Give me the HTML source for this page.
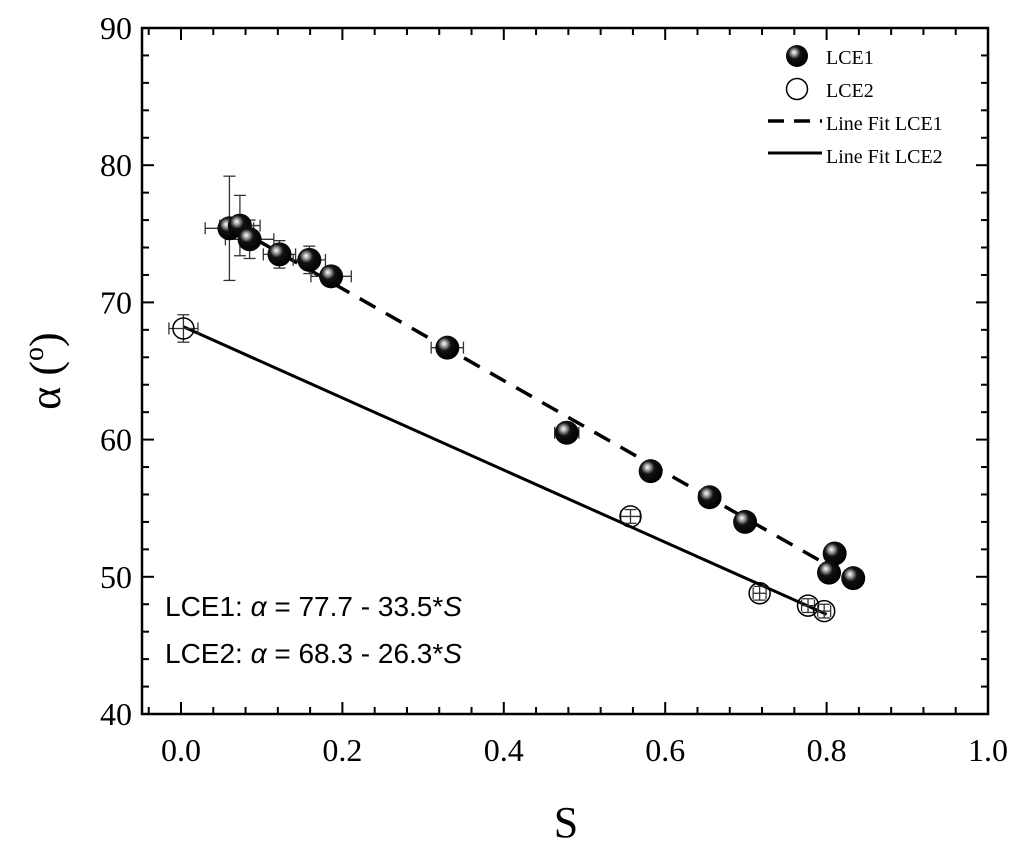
<!DOCTYPE html>
<html><head><meta charset="utf-8"><style>
body{margin:0;background:#fff;}
svg text{font-family:"Liberation Serif",serif;fill:#000;}
</style></head><body>
<svg id="chart" width="1024" height="848" xmlns="http://www.w3.org/2000/svg">
<defs>
<radialGradient id="shine" cx="0.4" cy="0.38" r="0.62" fx="0.36" fy="0.33">
<stop offset="0" stop-color="#fff"/><stop offset="0.18" stop-color="#aaa"/><stop offset="0.45" stop-color="#111"/><stop offset="1" stop-color="#000"/>
</radialGradient>
</defs>
<g id="plot"></g>
</svg>
<script>
const lce1X=[0.060,0.073,0.085,0.122,0.159,0.186,0.330,0.478,0.582,0.655,0.699,0.810,0.803,0.833];
const lce1Y=[75.4,75.6,74.6,73.5,73.1,71.9,66.7,60.5,57.7,55.8,54.0,51.7,50.3,49.9];
const lce1Xerr=[0.03,0.025,0.03,0.02,0.02,0.025,0.02,0.015,0.01,0.008,0.008,0.006,0.006,0.006];
const lce1Yerr=[3.8,2.2,1.4,1.0,1.0,0.6,0.4,0.3,0.3,0.2,0.2,0.2,0.2,0.2];
const lce2X=[0.003,0.557,0.717,0.777,0.797];
const lce2Y=[68.1,54.4,48.8,47.9,47.5];
const lce2Xerr=[0.018,0.012,0.008,0.008,0.008];
const lce2Yerr=[1.0,0.5,0.5,0.5,0.5];
const fit1=[77.7,-33.5], fit1Range=[0.06,0.81];
const fit2=[68.3,-26.3], fit2Range=[0.003,0.80];
const xTicks=[0.0,0.2,0.4,0.6,0.8,1.0];
const xTickLabels=["0.0","0.2","0.4","0.6","0.8","1.0"];
const yTicks=[40,50,60,70,80,90];
const yTickLabels=["40","50","60","70","80","90"];

const L=142,R=988,T=28,B=714;
const X=v=>181+(v-0)*(R-181)/1.0;
const Y=v=>B-(v-40)*(B-T)/50;
const svg=document.getElementById('plot');
const NS='http://www.w3.org/2000/svg';
function mk(tag,attrs,parent){const e=document.createElementNS(NS,tag);for(const k in attrs)e.setAttribute(k,attrs[k]);(parent||svg).appendChild(e);return e;}

const fr=mk('rect',{x:L,y:T,width:R-L,height:B-T,fill:'none',stroke:'#000','stroke-width':2.5});


for(let v=-0.04;v<=1.001;v+=0.04){const big=Math.abs(v/0.2-Math.round(v/0.2))<0.01;const len=big?12:7;const x=X(v);
 mk('line',{x1:x,x2:x,y1:B,y2:B-len,stroke:'#000','stroke-width':2});
 mk('line',{x1:x,x2:x,y1:T,y2:T+len,stroke:'#000','stroke-width':2});}
for(let v=40;v<=90;v+=2){const big=v%10===0;const len=big?12:7;const y=Y(v);
 mk('line',{x1:L,x2:L+len,y1:y,y2:y,stroke:'#000','stroke-width':2});
 mk('line',{x1:R,x2:R-len,y1:y,y2:y,stroke:'#000','stroke-width':2});}
xTicks.forEach((v,i)=>{const t=mk('text',{x:X(v),y:B+47,'font-size':32,'text-anchor':'middle'});t.textContent=xTickLabels[i];
 
 });
yTicks.forEach((v,i)=>{const t=mk('text',{x:L-10,y:Y(v)+11,'font-size':32,'text-anchor':'end'});t.textContent=yTickLabels[i];
 
 });
const xt=mk('text',{x:566,y:837,'font-size':44,'text-anchor':'middle'});xt.textContent='S';


const yt=mk('text',{x:0,y:0,'font-size':44,'text-anchor':'middle',transform:'translate(60,371) rotate(-90)'});
yt.innerHTML='α (<tspan font-size="28" dy="-17">o</tspan><tspan dy="17">)</tspan>';


const f1=mk('line',{x1:X(fit1Range[0]),y1:Y(fit1[0]+fit1[1]*fit1Range[0]),x2:X(fit1Range[1]),y2:Y(fit1[0]+fit1[1]*fit1Range[1]),stroke:'#000','stroke-width':3.5,'stroke-dasharray':'18,12'});


const f2=mk('line',{x1:X(fit2Range[0]),y1:Y(fit2[0]+fit2[1]*fit2Range[0]),x2:X(fit2Range[1]),y2:Y(fit2[0]+fit2[1]*fit2Range[1]),stroke:'#000','stroke-width':3});


function errbar(x,y,xe,ye){const g=mk('g',{stroke:'#333','stroke-width':1.3});
 const x1=X(x-xe),x2=X(x+xe),y1=Y(y-ye),y2=Y(y+ye),cx=X(x),cy=Y(y);
 mk('line',{x1:x1,x2:x2,y1:cy,y2:cy},g);mk('line',{x1:x1,x2:x1,y1:cy-6,y2:cy+6},g);mk('line',{x1:x2,x2:x2,y1:cy-6,y2:cy+6},g);
 mk('line',{x1:cx,x2:cx,y1:y1,y2:y2},g);mk('line',{x1:cx-6,x2:cx+6,y1:y1,y2:y1},g);mk('line',{x1:cx-6,x2:cx+6,y1:y2,y2:y2},g);
 
 }
lce2X.forEach((x,i)=>{errbar(x,lce2Y[i],lce2Xerr[i],lce2Yerr[i]);
 const c=mk('circle',{cx:X(x),cy:Y(lce2Y[i]),r:10.5,fill:'none',stroke:'#000','stroke-width':1.5});
 
 });
lce1X.forEach((x,i)=>{errbar(x,lce1Y[i],lce1Xerr[i],lce1Yerr[i]);});
lce1X.forEach((x,i)=>{const c=mk('circle',{cx:X(x),cy:Y(lce1Y[i]),r:12,fill:'url(#shine)'});
 
 });
const lg=mk('g',{});


mk('circle',{cx:797,cy:56,r:11,fill:'url(#shine)'},lg);
mk('circle',{cx:797,cy:89,r:10.5,fill:'none',stroke:'#000','stroke-width':1.5},lg);
mk('line',{x1:768,x2:822,y1:121,y2:121,stroke:'#000','stroke-width':3.5,'stroke-dasharray':'16,10'},lg);
mk('line',{x1:768,x2:822,y1:153,y2:153,stroke:'#000','stroke-width':3},lg);
['LCE1','LCE2','Line Fit LCE1','Line Fit LCE2'].forEach((s,i)=>{const t=mk('text',{x:826,y:64+i*33,'font-size':20},lg);t.textContent=s;
 
 });
['LCE1: ','LCE2: '].forEach((s,i)=>{const t=mk('text',{x:165,y:616+i*47,'font-size':28,style:'font-family:"Liberation Sans",sans-serif'});
 const f=i?fit2:fit1;
 t.innerHTML=s+'<tspan font-style="italic">α</tspan> = '+f[0].toFixed(1)+' - '+(-f[1]).toFixed(1)+'*<tspan font-style="italic">S</tspan>';
 
 });
</script>
</body></html>
